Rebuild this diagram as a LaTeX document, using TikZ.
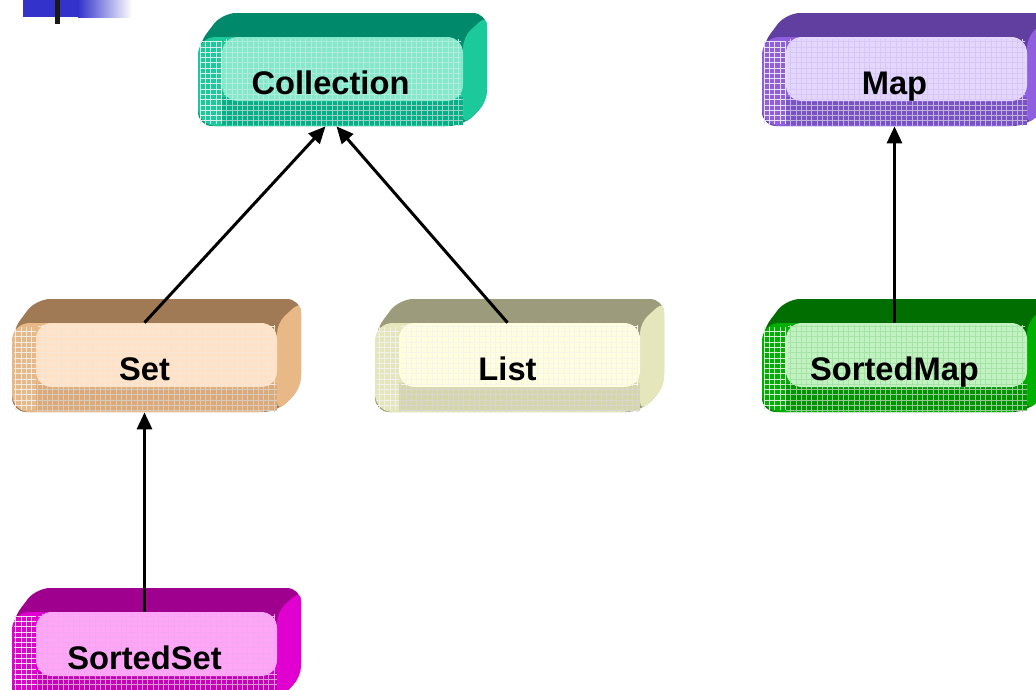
\documentclass[tikz,border=0pt]{standalone}
\usepackage{fontspec}
\setmainfont{Liberation Sans}
\usetikzlibrary{arrows.meta,patterns}

% colours of the blocks: top face, front, light panel, lower band
\definecolor{colltop}{HTML}{00896A}
\definecolor{collfront}{HTML}{1BC99A}
\definecolor{collpanel}{HTML}{86E8CB}
\definecolor{collband}{HTML}{05B088}
\definecolor{settop}{HTML}{A07A55}
\definecolor{setfront}{HTML}{E9B887}
\definecolor{setpanel}{HTML}{FFE2C6}
\definecolor{setband}{HTML}{DCAA78}
\definecolor{listtop}{HTML}{9C9C7C}
\definecolor{listfront}{HTML}{E6E6BC}
\definecolor{listpanel}{HTML}{FFFFE0}
\definecolor{listband}{HTML}{D6D6AC}
\definecolor{maptop}{HTML}{603FA0}
\definecolor{mapfront}{HTML}{8F5FE0}
\definecolor{mappanel}{HTML}{E3D6FF}
\definecolor{mapband}{HTML}{7A52C8}
\definecolor{smaptop}{HTML}{006E00}
\definecolor{smapfront}{HTML}{00B000}
\definecolor{smappanel}{HTML}{C2F2C2}
\definecolor{smapband}{HTML}{009600}
\definecolor{ssettop}{HTML}{A0008E}
\definecolor{ssetfront}{HTML}{E000D0}
\definecolor{ssetpanel}{HTML}{FFA6F8}
\definecolor{ssetband}{HTML}{C800B8}
\definecolor{slideblue}{HTML}{3333CC}

\tikzset{
  blockface/.style={minimum width=5.3cm, minimum height=1.78cm, inner sep=0pt},
  blocktext/.style={font=\bfseries\fontsize{18.6}{22}\selectfont, text=black, anchor=base},
  inherit/.style={-{Triangle[length=0.34cm,width=0.3cm]}, line width=1.7pt}
}

% #1 name, #2 x, #3 y of the front top left corner, #4 text, #5 colour prefix
\newcommand{\javablock}[5]{%
  \fill[#5top, rounded corners=8] (#2,#3+8) -- (#2+24,#3-24) -- (#2+289,#3-24)
     -- (#2+289,#3+65) -- (#2+265,#3+89) -- (#2,#3+89) -- cycle;
  \fill[#5front, rounded corners=6] (#2+265,#3) -- (#2+289,#3-22) -- (#2+289,#3+65)
     -- (#2+265,#3+89) -- cycle;
  \fill[#5front, rounded corners=10] (#2,#3) rectangle (#2+265,#3+89);
  \fill[pattern=grid, pattern color=#5top!15] (#2+2,#3+4) rectangle (#2+24,#3+86);
  \fill[#5band] (#2+24,#3+60) rectangle (#2+265,#3+88);
  \fill[pattern=grid, pattern color=#5top!40] (#2+24,#3+60) rectangle (#2+265,#3+88);
  \fill[#5panel, rounded corners=9] (#2+24,#3) rectangle (#2+265,#3+64);
  \fill[pattern=grid, pattern color=#5front!35] (#2+26,#3+2) rectangle (#2+263,#3+62);
  \node[blockface] (#1) at (#2+132.5,#3+44.5) {};
  \node[blocktext] (#1text) at (#2+132.5,#3+57.5) {#4};
}

\begin{document}
\begin{tikzpicture}[x=0.02cm, y=-0.02cm]
\useasboundingbox (0,0) rectangle (1036,690);

% slide corner mark
\fill[slideblue] (23,0) rectangle (78,17);
\shade[left color=slideblue, right color=white] (78,0) rectangle (132,17);
\fill[black!90] (55,0) rectangle (60,24);

\javablock{coll}{198}{37}{Collection}{coll}
\javablock{set}{12}{323}{Set}{set}
\javablock{list}{375}{323}{List}{list}
\javablock{map}{762}{37}{Map}{map}
\javablock{smap}{762}{323}{SortedMap}{smap}
\javablock{sset}{12}{612}{SortedSet}{sset}

\draw[inherit] (set.north) -- ([xshift=-0.1cm]coll.south);
\draw[inherit] (list.north) -- ([xshift=0.12cm]coll.south);
\draw[inherit] (sset.north) -- (set.south);
\draw[inherit] (smap.north) -- (map.south);

\end{tikzpicture}
\end{document}
